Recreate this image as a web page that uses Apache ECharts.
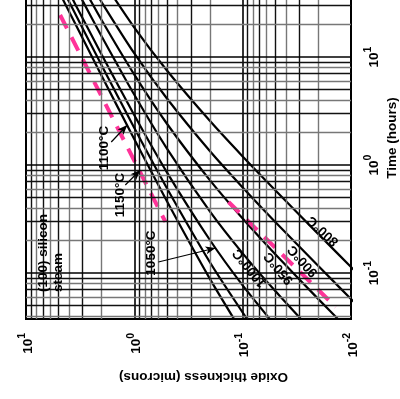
<!DOCTYPE html>
<html>
<head>
<meta charset="utf-8">
<script src="https://cdn.jsdelivr.net/npm/echarts@6/dist/echarts.min.js"></script>
<style>
  html, body { margin: 0; padding: 0; background: #fff; }
  #chart { width: 400px; height: 399px; }
</style>
</head>
<body>
<div id="chart"></div>
<script>
var dom = document.getElementById("chart");
var myChart = echarts.init(dom);

var FONT = '"Liberation Sans", Arial, sans-serif';

// decades of the two log axes
var thickDecades = [0.01, 0.1, 1, 10];
var timeDecades = [0.01, 0.1, 1, 10, 100];
var gridMult = [2, 3, 4, 5, 6, 7, 8, 9];

// [oxide thickness (microns), time (hours)]
var c1150 = [[0.1, 0.0277], [0.2, 0.0877], [0.5, 0.461], [1, 1.73], [2, 6.68], [4.5, 33.2], [6, 58.8]];
var c1100 = [[0.07, 0.026], [0.0937, 0.0391], [0.2, 0.125], [0.5, 0.609], [1, 2.2], [2, 8.34], [4, 32.4], [5, 50.4]];
var c1050 = [[0.05, 0.0325], [0.1, 0.0768], [0.2, 0.201], [0.5, 0.855], [1, 2.89], [2, 10.5], [3.5, 30.7], [4.5, 50.1]];
var c1000 = [[0.025, 0.0319], [0.05, 0.068], [0.1, 0.152], [0.2, 0.37], [0.5, 1.42], [1, 4.47], [2, 15.5], [3, 33.1], [4, 57.2]];
var c950 = [[0.012, 0.034], [0.02, 0.0573], [0.05, 0.149], [0.1, 0.319], [0.2, 0.72], [0.5, 2.41], [1, 6.86], [2, 21.9], [3.5, 59.6]];
var c900 = [[0.008, 0.0458], [0.02, 0.116], [0.05, 0.297], [0.1, 0.62], [0.2, 1.34], [0.5, 4.13], [1, 10.8], [2, 32.1], [3, 63.4]];
var c800 = [[0.008, 0.0907], [0.02, 0.229], [0.05, 0.583], [0.1, 1.2], [0.2, 2.55], [0.5, 7.5], [1, 18.7], [2, 52.4]];

// pink dashed guide lines
var pinkA = [[4.84, 24.5], [0.516, 0.297]];
var pinkB = [[0.135, 0.454], [0.0138, 0.0484]];

// arrows [from, to]
var arrows = [
    [[1.633, 1.633], [1.161, 2.345]],
    [[1.212, 0.653], [0.88, 0.899]],
    [[0.6, 0.1264], [0.178, 0.1704]]
];

var notes = [
    { text: '(100) silicon', at: [6.96, 0.0667], rot: 90, align: 'left' },
    { text: 'steam', at: [5.05, 0.0667], rot: 90, align: 'left' },
    { text: '1100°C', at: [1.896, 1.436], rot: 90 },
    { text: '1150°C', at: [1.348, 0.527], rot: 90 },
    { text: '1050°C', at: [0.696, 0.153], rot: 90 },
    { text: '1000°C', at: [0.0861, 0.111], rot: 129 },
    { text: '950°C', at: [0.0464, 0.111], rot: 130 },
    { text: '900°C', at: [0.0278, 0.129], rot: 132 },
    { text: '800°C', at: [0.0182, 0.245], rot: 137 }
];

function powLabel(v) {
    var l = Math.log(v) / Math.LN10;
    var e = Math.round(l);
    if (Math.abs(l - e) > 1e-6) return '';
    return '{b|10}{s|' + e + '}';
}

var labelRich = {
    b: { fontSize: 13.5, fontWeight: 'bold', fontFamily: FONT, color: '#000', lineHeight: 18, verticalAlign: 'bottom' },
    s: { fontSize: 10.5, fontWeight: 'bold', fontFamily: FONT, color: '#000', lineHeight: 18, verticalAlign: 'top' }
};

// grid lines
var gridLines = [];
thickDecades.forEach(function (d) {
    gridLines.push({ xAxis: d, lineStyle: { color: '#000', width: 1.6, type: 'solid' } });
    if (d < 10) gridMult.forEach(function (m) {
        gridLines.push({ xAxis: d * m, lineStyle: { color: m % 2 ? '#111' : '#777', width: 1.4, type: 'solid' } });
    });
});
timeDecades.forEach(function (d) {
    if (d >= 0.1) gridLines.push({ yAxis: d, lineStyle: { color: '#000', width: 1.6, type: 'solid' } });
    if (d < 100) gridMult.forEach(function (m) {
        var v = d * m;
        if (v > 0.0375 && v < 100) gridLines.push({ yAxis: v, lineStyle: { color: m % 2 ? '#111' : '#777', width: 1.4, type: 'solid' } });
    });
});

function curve(name, data) {
    return {
        name: name,
        type: 'line',
        data: data,
        smooth: 0.2,
        showSymbol: false,
        z: 3,
        lineStyle: { color: '#000', width: 2.2 }
    };
}

function pink(name, data) {
    return {
        name: name,
        type: 'line',
        data: data,
        showSymbol: false,
        z: 4,
        lineStyle: { color: '#ff3399', width: 4, type: [15, 10], cap: 'butt' }
    };
}

var option = {
    animation: false,
    backgroundColor: '#fff',
    grid: {
        left: 26, right: 49, top: -51, bottom: 80,
        containLabel: false,
        outerBoundsMode: 'none',
        show: true, borderColor: '#000', borderWidth: 2
    },
    xAxis: {
        type: 'log',
        inverse: true,
        min: 0.01,
        max: 10,
        axisLine: { show: false },
        axisTick: { show: false },
        splitLine: { show: false },
        axisLabel: { rotate: 90, margin: 14, formatter: powLabel, rich: labelRich },
        name: 'Oxide thickness (microns)',
        nameLocation: 'middle',
        nameRotate: 180,
        nameGap: 51,
        nameMoveOverlap: false,
        nameTextStyle: { fontSize: 13.5, fontWeight: 'bold', fontFamily: FONT, color: '#000', padding: [0, 30, 0, 0] }
    },
    yAxis: {
        type: 'log',
        position: 'right',
        min: 0.0375,
        max: 100,
        axisLine: { show: false },
        axisTick: { show: false },
        splitLine: { show: false },
        axisLabel: { rotate: 90, margin: 12, formatter: powLabel, rich: labelRich },
        name: 'Time (hours)',
        nameLocation: 'middle',
        nameRotate: 90,
        nameGap: 34,
        nameMoveOverlap: false,
        nameTextStyle: { fontSize: 13.5, fontWeight: 'bold', fontFamily: FONT, color: '#000', padding: [0, 8, 0, 0] }
    },
    series: [
        {
            name: 'grid',
            type: 'line',
            data: [[1, 1]],
            showSymbol: false,
            silent: true,
            z: 1,
            lineStyle: { width: 0 },
            markLine: {
                silent: true,
                symbol: 'none',
                animation: false,
                label: { show: false },
                emphasis: { disabled: true },
                data: gridLines
            }
        },
        curve('1150', c1150),
        curve('1100', c1100),
        curve('1050', c1050),
        curve('1000', c1000),
        curve('950', c950),
        curve('900', c900),
        curve('800', c800),
        pink('pinkA', pinkA),
        pink('pinkB', pinkB),
        {
            name: 'arrows',
            type: 'line',
            data: [[1, 1]],
            showSymbol: false,
            silent: true,
            z: 5,
            lineStyle: { width: 0 },
            markLine: {
                silent: true,
                symbol: ['none', 'arrow'],
                symbolSize: [6, 10],
                animation: false,
                label: { show: false },
                emphasis: { disabled: true },
                lineStyle: { color: '#000', width: 1.2, type: 'solid' },
                data: arrows.map(function (a) {
                    return [{ coord: a[0] }, { coord: a[1] }];
                })
            }
        }
    ]
};

myChart.setOption(option, true);

var graphics = notes.map(function (n) {
    var p = myChart.convertToPixel({ gridIndex: 0 }, n.at);
    return {
        type: 'text',
        x: p[0],
        y: p[1],
        rotation: n.rot * Math.PI / 180,
        z: 10,
        style: {
            text: n.text,
            fill: '#000',
            font: 'bold 13.5px ' + FONT,
            align: n.align || 'center',
            verticalAlign: 'middle',
            textAlign: n.align || 'center',
            textVerticalAlign: 'middle'
        }
    };
});
myChart.setOption({ graphic: graphics });

window.addEventListener("resize", function () {
    myChart.resize();
});
</script>
</body>
</html>
